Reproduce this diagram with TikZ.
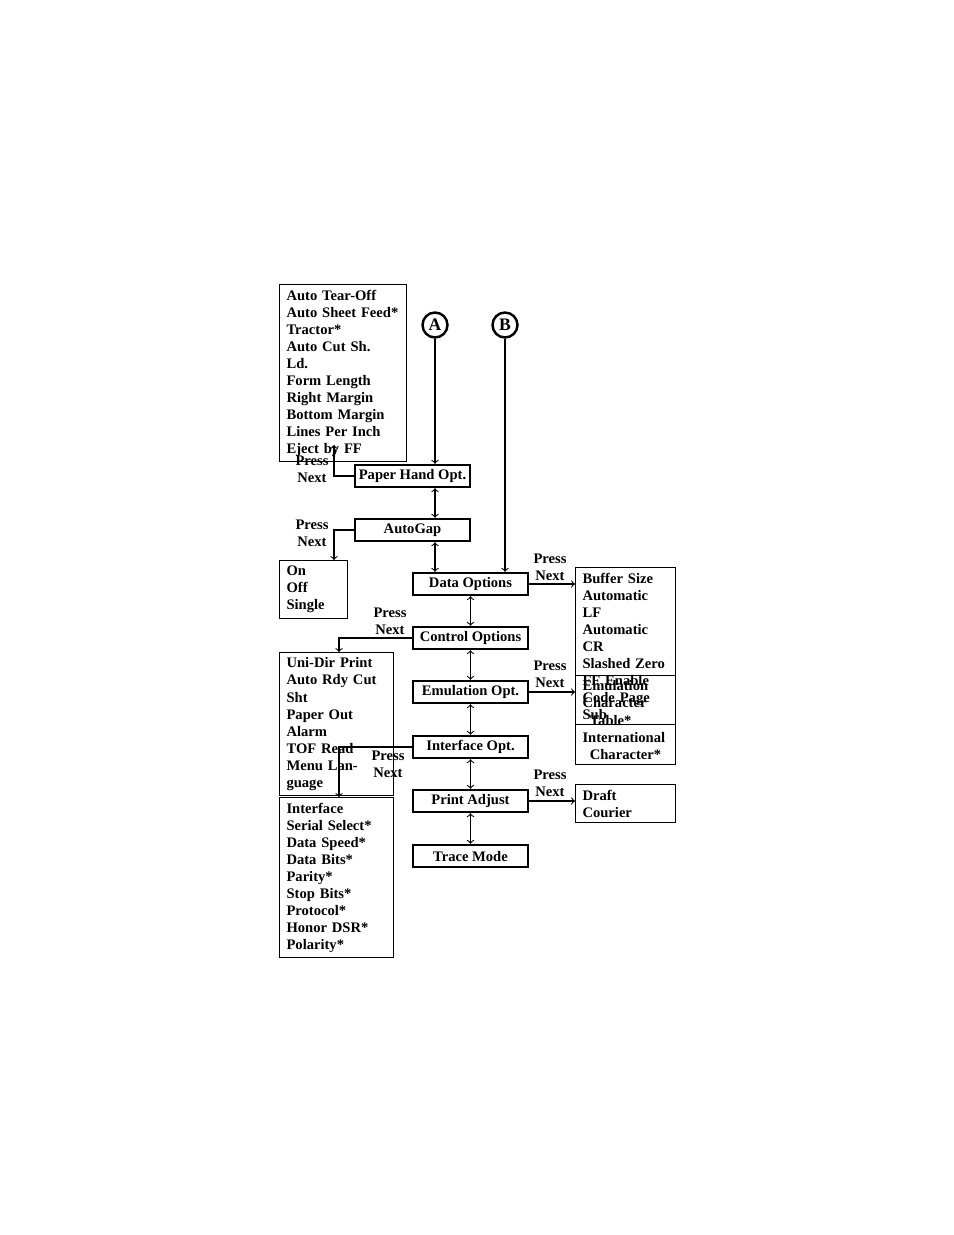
\documentclass[tikz,border=0pt]{standalone}
\usepackage{fontspec}
\setmainfont{Liberation Serif}
\usetikzlibrary{arrows}
\tikzset{
	menubox/.style={rectangle, draw, line width=1.4pt, minimum width=2.3cm, minimum height=0.44cm, inner sep=0pt, font=\bfseries\fontsize{8.3}{9.7}\selectfont},
	listbox/.style={rectangle, draw, line width=0.6pt, anchor=north west, align=left, inner xsep=4pt, inner ysep=3pt, font=\bfseries\fontsize{8.3}{9.7}\selectfont},
	lettercircle/.style={circle, draw, line width=1.4pt, minimum size=0.5cm, inner sep=0pt, font=\bfseries\fontsize{10}{12}\selectfont},
	presslabel/.style={align=center, font=\bfseries\fontsize{8.3}{9.7}\selectfont}
}
\begin{document}
\begin{tikzpicture}[x=0.02cm,y=-0.02cm,line width=0.6pt]
			\useasboundingbox (0,0) rectangle (954,1235);
			
			% main menu column
			\node[menubox] (paper) at (412.5,476) {Paper Hand Opt.};
			\node[menubox] (autogap) at (412.5,530) {AutoGap};
			\node[menubox] (data) at (470.5,584) {Data Options};
			\node[menubox] (control) at (470.5,638) {Control Options};
			\node[menubox] (emul) at (470.5,692) {Emulation Opt.};
			\node[menubox] (iface) at (470.5,747) {Interface Opt.};
			\node[menubox] (adjust) at (470.5,801) {Print Adjust};
			\node[menubox] (trace) at (470.5,856) {Trace Mode};
			
			\node[lettercircle] (A) at (435,325) {A};
			\node[lettercircle] (B) at (505,325) {B};
			
			% option lists
			\node[listbox, text width=2.25cm] (paperlist) at (279,284) {Auto Tear-Off\\Auto Sheet Feed*\\Tractor*\\Auto Cut Sh. Ld.\\Form Length\\Right Margin\\Bottom Margin\\Lines Per Inch\\Eject by FF};
			\node[listbox, text width=1.08cm] (gaplist) at (279,560) {On\\Off\\Single};
			\node[listbox, text width=1.72cm] (datalist) at (575,567) {Buffer Size\\Automatic LF\\Automatic CR\\Slashed Zero\\FF Enable\\Code Page Sub};
			\node[listbox, text width=2.0cm] (controllist) at (279,652) {Uni-Dir Print\\Auto Rdy Cut Sht\\Paper Out Alarm\\TOF Read\\Menu Language};
			\node[listbox, text width=1.72cm] (emullist) at (575,675) {Emulation\\Character\\\hspace*{0.5em}Table*\\International\\\hspace*{0.5em}Character*};
			\node[listbox, text width=1.72cm] (adjustlist) at (575,784) {Draft\\Courier};
			\node[listbox, text width=2.0cm] (ifacelist) at (279,797) {Interface\\Serial Select*\\Data Speed*\\Data Bits*\\Parity*\\Stop Bits*\\Protocol*\\Honor DSR*\\Polarity*};
			
			% connectors
			\draw[->] (A) -- (paper.north -| A);
			\draw[->] (B) -- (data.north -| B);
			\draw[<->] (paper.south -| A) -- (autogap.north -| A);
			\draw[<->] (autogap.south -| A) -- (data.north -| A);
			\draw[<->] (data) -- (control);
			\draw[<->] (control) -- (emul);
			\draw[<->] (emul) -- (iface);
			\draw[<->] (iface) -- (adjust);
			\draw[<->] (adjust) -- (trace);
			
			\draw[->] (paper.west) -| (334,445);
			\draw[->] (autogap.west) -| (334,560);
			\draw[->] (data.east) -- (data.east -| datalist.west);
			\draw[->] (control.west) -| (339,652);
			\draw[->] (emul.east) -- (emul.east -| emullist.west);
			\draw[->] (iface.west) -| (339,797);
			\draw[->] (adjust.east) -- (adjust.east -| adjustlist.west);
			
			% press next labels
			\node[presslabel] (pn1) at (312,469) {Press\\Next};
			\node[presslabel] (pn2) at (312,533) {Press\\Next};
			\node[presslabel] (pn3) at (550,567) {Press\\Next};
			\node[presslabel] (pn4) at (390,621) {Press\\Next};
			\node[presslabel] (pn5) at (550,674) {Press\\Next};
			\node[presslabel] (pn6) at (388,764) {Press\\Next};
			\node[presslabel] (pn7) at (550,783) {Press\\Next};
		\end{tikzpicture}
\end{document}
